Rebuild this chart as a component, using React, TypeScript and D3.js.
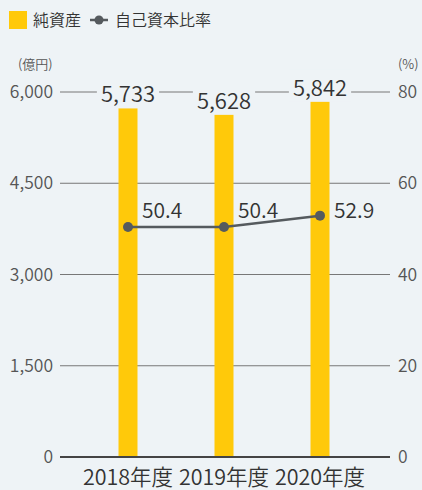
import { useEffect, useRef } from "react";
import * as d3 from "d3";

const years = ["2018年度", "2019年度", "2020年度"];
const netAssets = [5733, 5628, 5842];
const equityRatio = [50.4, 50.4, 52.9];
const leftTicks = [0, 1500, 3000, 4500, 6000];
const rightTicks = [0, 20, 40, 60, 80];

const W = 422;
const H = 490;
const BG = "#eef3f6";
const FONT = "'Noto Sans CJK JP', 'Noto Sans', sans-serif";
const WEIGHT = 350;

const App = () => {
  const svgRef = useRef<SVGSVGElement>(null);

  useEffect(() => {
    document.body.style.margin = "0";
    document.body.style.background = BG;
    const svg = d3.select(svgRef.current);
    svg.selectAll("*").remove();

    const left = 60;
    const right = 390;
    const top = 92;
    const bottom = 457;

    const x = d3.scaleBand().domain(years).range([80, 368]);
    const yL = d3.scaleLinear().domain([0, 6000]).range([bottom, top]);
    const yR = d3.scaleLinear().domain([0, 80]).range([bottom, top]);
    const cx = (d: string) => x(d)! + x.bandwidth() / 2;

    svg.append("rect").attr("width", W).attr("height", H).attr("fill", BG);

    // legend
    const lg = svg.append("g").attr("font-family", FONT).attr("font-size", 16).attr("fill", "#333")
      .attr("font-weight", WEIGHT);
    lg.append("rect").attr("x", 9).attr("y", 11).attr("width", 18).attr("height", 18).attr("fill", "#ffc90a");
    lg.append("text").attr("x", 33).attr("y", 26).text("純資産");
    lg.append("line").attr("x1", 90).attr("x2", 108).attr("y1", 20).attr("y2", 20)
      .attr("stroke", "#555a5e").attr("stroke-width", 2.5);
    lg.append("circle").attr("cx", 99).attr("cy", 20).attr("r", 4.5).attr("fill", "#555a5e");
    lg.append("text").attr("x", 115).attr("y", 26).text("自己資本比率");

    // units
    svg.append("text").attr("x", 18).attr("y", 69).attr("font-family", FONT).attr("font-size", 13)
      .attr("font-weight", WEIGHT).attr("fill", "#555").text("(億円)");
    svg.append("text").attr("x", 398).attr("y", 69).attr("font-family", FONT).attr("font-size", 13)
      .attr("font-weight", WEIGHT).attr("fill", "#555").text("(%)");

    // gridlines
    svg.append("g").selectAll("line").data(leftTicks.filter((t) => t > 0)).join("line")
      .attr("x1", left).attr("x2", right)
      .attr("y1", (d) => yL(d)).attr("y2", (d) => yL(d))
      .attr("stroke", "#777").attr("stroke-width", 1);

    // left tick labels
    svg.append("g").selectAll("text").data(leftTicks).join("text")
      .attr("x", 53).attr("y", (d) => yL(d)).attr("dy", "0.35em")
      .attr("text-anchor", "end").attr("font-family", FONT).attr("font-size", 17.5)
      .attr("font-weight", WEIGHT).attr("fill", "#555")
      .text((d) => d3.format(",")(d));

    // right tick labels
    svg.append("g").selectAll("text").data(rightTicks).join("text")
      .attr("x", 398).attr("y", (d) => yR(d)).attr("dy", "0.35em")
      .attr("font-family", FONT).attr("font-size", 17.5).attr("font-weight", WEIGHT).attr("fill", "#555")
      .text((d) => String(d));

    // bars
    const barW = 19;
    svg.append("g").selectAll("rect").data(netAssets).join("rect")
      .attr("x", (_, i) => cx(years[i]) - barW / 2)
      .attr("width", barW)
      .attr("y", (d) => yL(d))
      .attr("height", (d) => bottom - yL(d))
      .attr("fill", "#ffc90a");

    // baseline
    svg.append("line").attr("x1", left).attr("x2", right).attr("y1", bottom).attr("y2", bottom)
      .attr("stroke", "#444").attr("stroke-width", 2);

    // bar value labels with background
    const bl = svg.append("g");
    netAssets.forEach((v, i) => {
      const tx = cx(years[i]);
      const ty = yL(v) - 6;
      const g = bl.append("g");
      const t = g.append("text").attr("x", tx).attr("y", ty).attr("text-anchor", "middle")
        .attr("font-family", FONT).attr("font-size", 22).attr("font-weight", WEIGHT).attr("fill", "#333")
        .text(d3.format(",")(v));
      const bb = (t.node() as SVGTextElement).getBBox();
      g.insert("rect", "text").attr("x", bb.x - 4).attr("y", bb.y).attr("width", bb.width + 8)
        .attr("height", bb.height).attr("fill", BG);
    });

    // ratio line
    const line = d3.line<number>().x((_, i) => cx(years[i])).y((d) => yR(d));
    svg.append("path").datum(equityRatio).attr("d", line).attr("fill", "none")
      .attr("stroke", "#555a5e").attr("stroke-width", 2.5);
    svg.append("g").selectAll("circle").data(equityRatio).join("circle")
      .attr("cx", (_, i) => cx(years[i])).attr("cy", (d) => yR(d)).attr("r", 5)
      .attr("fill", "#555a5e");
    // last label sits beside the point, the others above-right of it
    const last = equityRatio.length - 1;
    svg.append("g").selectAll("text").data(equityRatio).join("text")
      .attr("x", (_, i) => cx(years[i]) + 14)
      .attr("y", (d, i) => yR(d) + (i === last ? 2 : -9))
      .attr("font-family", FONT).attr("font-size", 21).attr("font-weight", WEIGHT).attr("fill", "#333")
      .text((d) => d.toFixed(1));

    // x labels
    svg.append("g").selectAll("text").data(years).join("text")
      .attr("x", (d) => cx(d)).attr("y", 485).attr("text-anchor", "middle")
      .attr("font-family", FONT).attr("font-size", 21.5).attr("font-weight", WEIGHT).attr("fill", "#333")
      .text((d) => d);
  }, []);

  return <svg ref={svgRef} width={W} height={H} style={{ display: "block" }} />;
};

export default App;
